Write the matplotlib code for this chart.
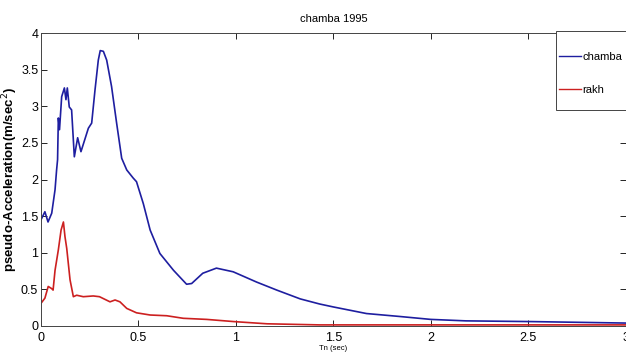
import matplotlib
matplotlib.use('Agg')
import matplotlib.pyplot as plt
from matplotlib.patches import Rectangle

plt.rcParams['font.family'] = ['Liberation Sans', 'DejaVu Sans']

# chamba 记录 (Tn, 伪加速度)
tn_chamba = [0.0, 0.02, 0.036, 0.055, 0.072, 0.08, 0.085, 0.089, 0.095, 0.106, 0.12, 0.128,
             0.135, 0.145, 0.157, 0.171, 0.188, 0.205, 0.243, 0.26, 0.277, 0.294, 0.304,
             0.32, 0.337, 0.362, 0.388, 0.414, 0.44, 0.473, 0.49, 0.525, 0.56, 0.61, 0.68,
             0.747, 0.773, 0.83, 0.90, 0.986, 1.106, 1.21, 1.33, 1.43, 1.5, 1.67, 1.84,
             2.0, 2.18, 2.52, 3.0]
sa_chamba = [1.45, 1.56, 1.42, 1.54, 1.86, 2.13, 2.27, 2.84, 2.68, 3.13, 3.25, 3.09,
             3.25, 2.99, 2.95, 2.31, 2.57, 2.38, 2.70, 2.77, 3.22, 3.63, 3.76,
             3.75, 3.63, 3.27, 2.77, 2.29, 2.13, 2.02, 1.97, 1.67, 1.31, 0.99, 0.76,
             0.57, 0.58, 0.72, 0.79, 0.74, 0.60, 0.49, 0.37, 0.30, 0.26, 0.17, 0.13,
             0.09, 0.07, 0.06, 0.04]

# rakh 记录
tn_rakh = [0.0, 0.02, 0.037, 0.055, 0.062, 0.072, 0.089, 0.103, 0.115, 0.123, 0.132, 0.149,
           0.166, 0.183, 0.217, 0.268, 0.30, 0.354, 0.38, 0.405, 0.44, 0.49, 0.56, 0.645,
           0.73, 0.85, 0.99, 1.16, 1.43, 2.0, 2.5, 3.0]
sa_rakh = [0.31, 0.38, 0.54, 0.51, 0.49, 0.76, 1.04, 1.31, 1.42, 1.22, 1.06, 0.63,
           0.40, 0.42, 0.40, 0.41, 0.40, 0.33, 0.355, 0.33, 0.24, 0.18, 0.15, 0.14,
           0.105, 0.09, 0.06, 0.03, 0.015, 0.015, 0.015, 0.015]

fig = plt.figure(figsize=(6.26, 3.58), dpi=100)
ax = fig.add_axes([0.0655, 0.0894, 0.934, 0.8184])

ax.plot(tn_chamba, sa_chamba, color='#1e1ea0', lw=1.2, label='chamba')
ax.plot(tn_rakh, sa_rakh, color='#cc2020', lw=1.2, label='rakh')

ax.set_xlim(0, 3)
ax.set_ylim(0, 4)
ax.set_xticks([0, 0.5, 1, 1.5, 2, 2.5, 3])
ax.set_xticklabels(['0', '0.5', '1', '1.5', '2', '2.5', '3'])
ax.set_yticks([0, 0.5, 1, 1.5, 2, 2.5, 3, 3.5, 4])
ax.set_yticklabels(['0', '0.5', '1', '1.5', '2', '2.5', '3', '3.5', '4'])
ax.tick_params(direction='in', top=True, right=True, labelsize=9, length=4, width=0.6)
ax.tick_params(axis='x', pad=4)
ax.tick_params(axis='y', pad=2)
for s in ax.spines.values():
    s.set_linewidth(0.7)
    s.set_color('#444444')

ax.set_title('chamba 1995', fontsize=8, pad=8)
ax.set_xlabel('Tn (sec)', fontsize=5.5, labelpad=1)
ax.set_ylabel('pseudo-Acceleration(m/sec$^2$)', fontsize=9.5, fontweight='bold', labelpad=1)

# 图例框 (MATLAB 风格)
ax.add_patch(Rectangle((0.88, 0.737), 0.125, 0.27, transform=ax.transAxes,
                       facecolor='white', edgecolor='#444444', lw=0.7, zorder=5, clip_on=False))
leg = ax.legend(loc='center', bbox_to_anchor=(0.94, 0.862), fontsize=8, frameon=False,
                labelspacing=2.0, handlelength=2.0, handletextpad=0.15, borderpad=0)
leg.set_zorder(6)
for ln in leg.get_lines():
    ln.set_linewidth(1.0)

fig.savefig('out.png', dpi=100)
